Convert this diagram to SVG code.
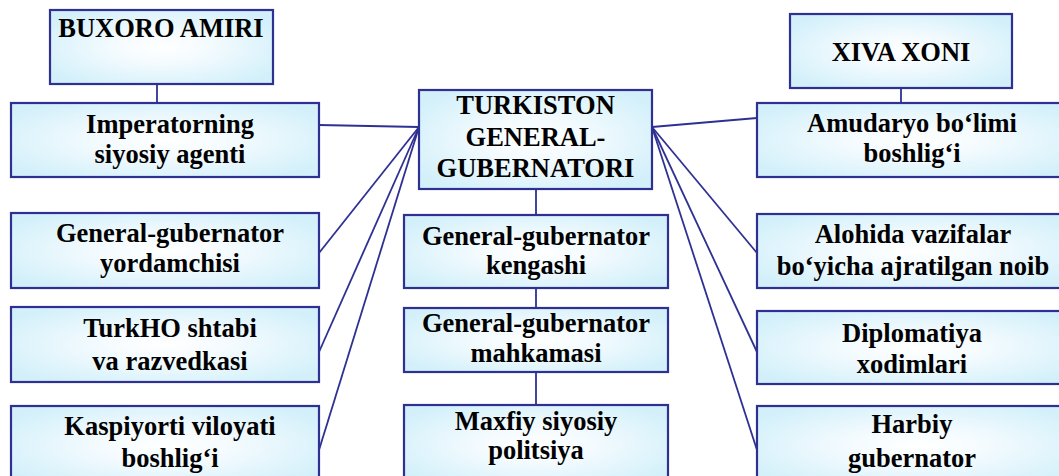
<svg xmlns="http://www.w3.org/2000/svg" width="1059" height="476" viewBox="0 0 1059 476">
<defs>
<radialGradient id="g" cx="50%" cy="50%" r="60%">
<stop offset="0" stop-color="#ffffff"/>
<stop offset="0.35" stop-color="#f4fbfe"/>
<stop offset="1" stop-color="#d3f0fa"/>
</radialGradient>
<style>
.b{fill:url(#g);stroke:#2e3192;stroke-width:2.2}
.t{font-family:"Liberation Serif","Times New Roman",serif;font-weight:bold;font-size:26.5px;fill:#000;text-anchor:middle}
.c{stroke:#2e3192;stroke-width:1.8;fill:none}
</style>
</defs>
<rect width="1059" height="476" fill="#fff"/>
<g id="connectors">
<line class="c" x1="157" y1="84" x2="157" y2="103"/>
<line class="c" x1="901" y1="88" x2="901" y2="103"/>
<line class="c" x1="536" y1="189" x2="536" y2="215"/>
<line class="c" x1="536" y1="288" x2="536" y2="308"/>
<line class="c" x1="536" y1="372" x2="536" y2="405"/>
<line class="c" x1="419" y1="127" x2="319" y2="125"/>
<line class="c" x1="419" y1="127" x2="319" y2="253"/>
<line class="c" x1="419" y1="127" x2="319" y2="352"/>
<line class="c" x1="419" y1="127" x2="319" y2="450"/>
<line class="c" x1="652" y1="127" x2="757" y2="118"/>
<line class="c" x1="652" y1="127" x2="757" y2="253"/>
<line class="c" x1="652" y1="127" x2="757" y2="352"/>
<line class="c" x1="652" y1="127" x2="757" y2="450"/>
</g>
<g id="buxoro"><rect class="b" x="50" y="10" width="223" height="74"/><text class="t" x="161" y="37">BUXORO AMIRI</text></g>
<g id="xiva"><rect class="b" x="790" y="14" width="222" height="74"/><text class="t" x="901" y="61">XIVA XONI</text></g>
<g id="turkiston"><rect class="b" x="419" y="90" width="233" height="99"/><text class="t" x="535.5" y="113.5">TURKISTON</text><text class="t" x="535.5" y="145.5">GENERAL-</text><text class="t" x="535.5" y="177">GUBERNATORI</text></g>
<g id="imperator"><rect class="b" x="11" y="103" width="308" height="74"/><text class="t" x="170" y="133">Imperatorning</text><text class="t" x="170" y="163">siyosiy agenti</text></g>
<g id="yordamchi"><rect class="b" x="11" y="213" width="308" height="75"/><text class="t" x="170" y="242">General-gubernator</text><text class="t" x="170" y="272">yordamchisi</text></g>
<g id="turkho"><rect class="b" x="11" y="307" width="308" height="75"/><text class="t" x="170" y="337">TurkHO shtabi</text><text class="t" x="170" y="370">va razvedkasi</text></g>
<g id="kaspiy"><rect class="b" x="11" y="406" width="308" height="80"/><text class="t" x="170" y="435">Kaspiyorti viloyati</text><text class="t" x="170" y="467">boshlig‘i</text></g>
<g id="kengash"><rect class="b" x="404" y="215" width="264" height="73"/><text class="t" x="536" y="245">General-gubernator</text><text class="t" x="536" y="274">kengashi</text></g>
<g id="mahkama"><rect class="b" x="404" y="308" width="264" height="64"/><text class="t" x="536" y="332">General-gubernator</text><text class="t" x="536" y="362">mahkamasi</text></g>
<g id="maxfiy"><rect class="b" x="404" y="405" width="264" height="80"/><text class="t" x="536" y="430">Maxfiy siyosiy</text><text class="t" x="536" y="459">politsiya</text></g>
<g id="amudaryo"><rect class="b" x="757" y="103" width="320" height="74"/><text class="t" x="912" y="132">Amudaryo bo‘limi</text><text class="t" x="912" y="162">boshlig‘i</text></g>
<g id="alohida"><rect class="b" x="757" y="214" width="320" height="74"/><text class="t" x="913" y="243">Alohida vazifalar</text><text class="t" x="913" y="275">bo‘yicha ajratilgan noib</text></g>
<g id="diplomatiya"><rect class="b" x="757" y="311" width="320" height="73"/><text class="t" x="912" y="342">Diplomatiya</text><text class="t" x="912" y="373">xodimlari</text></g>
<g id="harbiy"><rect class="b" x="757" y="406" width="320" height="80"/><text class="t" x="912" y="433">Harbiy</text><text class="t" x="912" y="467">gubernator</text></g>
</svg>
